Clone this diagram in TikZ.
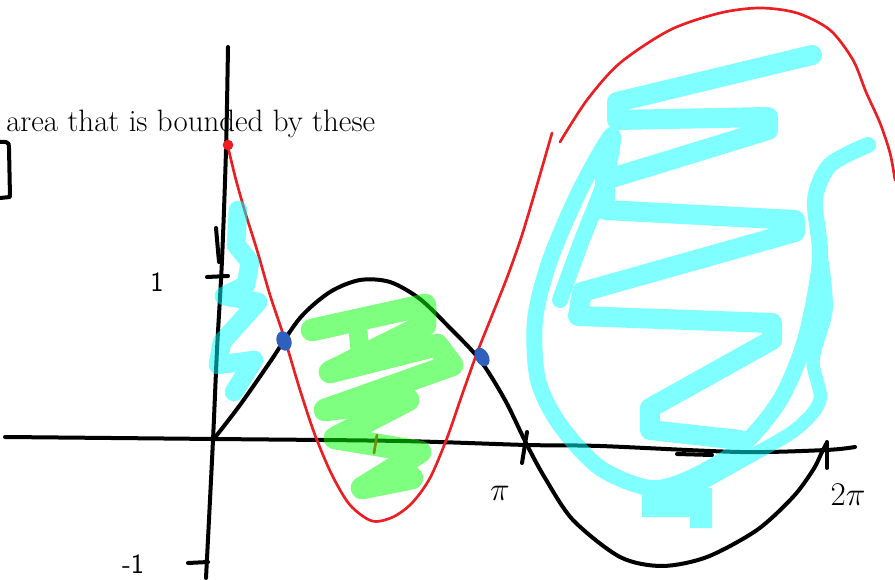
\documentclass[tikz,border=0pt]{standalone}
\usepackage{tikz}
\definecolor{hlcyan}{RGB}{0,255,255}
\definecolor{hlgreen}{RGB}{0,255,0}
\definecolor{pinred}{RGB}{235,30,35}
\definecolor{dotblue}{RGB}{48,96,190}
\begin{document}
\begin{tikzpicture}[x=0.75pt, y=-0.75pt,
    ink/.style={line width=3pt, line cap=round, line join=round, black},
    pen/.style={line width=2pt, line cap=round, line join=round, pinred},
    marker/.style={line width=15pt, line cap=round, line join=round},
    hand/.style={font=\sffamily\fontsize{21}{21}\selectfont, inner sep=0pt}
]
\useasboundingbox (0,0) rectangle (895,580);

\node[anchor=base west, inner sep=0pt, text=black, font=\fontsize{23.2}{26}\selectfont] (title) at (6,132) {area that is bounded by these};

\draw[ink] (0,142) -- (6,142) .. controls (9,142) and (9,145) .. (9,148) -- (10,197) -- (0,198);

\draw[ink] plot[smooth] coordinates {(228,47) (226,150) (222,260) (217,350) (213,440) (206,578)};
\draw[ink] (216,228) -- (219,262);
\draw[ink] plot[smooth] coordinates {(5,437) (215,439) (400,441) (527,445) (600,446) (740,452) (826,450) (855,447)};
\draw[ink] (677,454) -- (712,455);

\draw[ink] (207,277) -- (228,276);
\draw[ink] (188,563) -- (208,562);
\draw[ink] (527,432) -- (522,463);
\draw[ink] (827,442) -- (827,468);

\node[hand] (one) at (157,282) {1};
\node[hand] (minusone) at (133,564) {-1};
\node[hand, font=\fontsize{30}{30}\selectfont] (pi) at (500,493) {$\pi$};
\node[hand, font=\fontsize{30}{30}\selectfont] (twopi) at (848,495) {$2\pi$};

\draw[ink] plot[smooth] coordinates {(213,440) (240,405) (270,362) (300,318) (330,292) (360,280) (390,282) (420,299) (450,328) (480,360) (505,400) (527,445) (545,478) (573,520) (620,557) (662,566) (707,557) (757,530) (793,497) (813,470) (822,452) (826,444)};

\draw[pen] plot[smooth] coordinates {(228,147) (236,180) (246,215) (257,250) (270,295) (285,340) (300,390) (315,435) (332,475) (350,505) (372,521) (393,517) (412,503) (430,478) (447,438) (462,395) (477,353) (493,313) (508,275) (522,235) (537,185) (552,133)};
\draw[pen] plot[smooth] coordinates {(560,142) (587,100) (620,63) (670,30) (720,13) (760,8) (797,13) (830,30) (853,60) (866,92) (880,123) (890,153) (895,180)};
\draw[pen] (377,435) -- (374,453);
\fill[pinred] (228,145) circle (4pt);

\fill[dotblue, rotate around={20:(284,341)}] (284,341) ellipse (5.5pt and 7.5pt);
\fill[dotblue, rotate around={30:(482,357)}] (482,357) ellipse (5pt and 7.5pt);

\begin{scope}[transparency group, opacity=0.5]
\draw[marker, hlgreen, line width=17pt] (312,330) -- (425,305) -- (425,325) -- (330,372) -- (437,345) -- (452,365) -- (325,410) -- (408,400) -- (335,438) -- (420,452) -- (362,488) -- (412,478);
\draw[marker, hlgreen, line width=14pt] (358,330) -- (360,352);
\end{scope}

\begin{scope}[transparency group, opacity=0.5]
\draw[marker, hlcyan, line width=14pt] (238,210) -- (236,245) -- (250,262) -- (246,285) -- (224,296) -- (258,302) -- (222,342) -- (218,365) -- (254,360) -- (234,392);
\draw[marker, hlcyan] (812,55) -- (617,102) -- (617,120) -- (768,117) -- (768,130) -- (605,180) -- (605,210) -- (795,220) -- (795,232) -- (582,292) -- (578,316) -- (772,323) -- (772,340) -- (650,408) -- (650,430) -- (740,440);
\draw[marker, hlcyan, line width=12pt] plot[smooth] coordinates {(868,145) (830,165) (815,200) (820,260) (805,340) (780,400) (740,448) (690,478) (650,488) (600,468) (560,425) (538,380) (535,320) (550,260) (580,190) (612,135) (605,180) (580,245) (560,300)};
\draw[marker, hlcyan, line width=10pt] plot[smooth] coordinates {(822,262) (826,310) (813,360) (820,400) (795,430) (740,462) (690,490)};
\fill[hlcyan] (642,488) -- (712,488) -- (712,528) -- (690,528) -- (690,517) -- (642,517) -- cycle;
\end{scope}
\end{tikzpicture}
\end{document}
